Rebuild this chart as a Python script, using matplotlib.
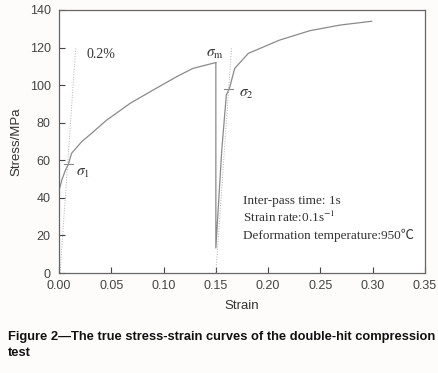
import matplotlib.pyplot as plt
import numpy as np

plt.rcParams['mathtext.fontset'] = 'stix'

# first hit (strain, stress)
strain1 = [0.0, 0.003, 0.006, 0.009, 0.012, 0.0217, 0.031, 0.0456, 0.068, 0.090, 0.1125, 0.128, 0.149, 0.150]
stress1 = [44.0, 50.0, 54.5, 58.0, 63.7, 69.9, 74.3, 81.4, 90.3, 97.4, 104.5, 108.9, 111.9, 112.0]

# unloading + second hit
strain2 = [0.150, 0.150, 0.1556, 0.160, 0.163, 0.168, 0.181, 0.211, 0.240, 0.269, 0.299]
stress2 = [112.0, 13.3, 65.0, 94.7, 98.3, 108.9, 116.9, 124.0, 129.0, 132.0, 134.0]

# 0.2% offset lines
offset1_x = [0.001, 0.016]
offset1_y = [0.0, 120.0]
offset2_x = [0.150, 0.165]
offset2_y = [0.0, 120.0]

xticks = [0.00, 0.05, 0.10, 0.15, 0.20, 0.25, 0.30, 0.35]
yticks = [0, 20, 40, 60, 80, 100, 120, 140]

notes = ['Inter-pass time: 1s', 'Strain rate:0.1s$^{-1}$', 'Deformation temperature:950\u2103']

fig = plt.figure(figsize=(4.39, 3.73), dpi=100)
fig.patch.set_facecolor('#fdfcfb')
ax = fig.add_axes([59 / 439, 100 / 373, 366 / 439, 263 / 373])
ax.set_facecolor('white')

line_col = '#8a8a8a'
ax.plot(strain1, stress1, color=line_col, lw=0.9)
ax.plot(strain2, stress2, color=line_col, lw=0.9)
ax.plot(offset1_x, offset1_y, color='#b0b0b0', lw=0.7, ls=':')
ax.plot(offset2_x, offset2_y, color='#b0b0b0', lw=0.7, ls=':')

# sigma markers
ax.plot([0.005, 0.013], [58, 58], color=line_col, lw=0.8)
ax.plot([0.158, 0.1667], [97.7, 97.7], color=line_col, lw=0.8)

serif = ['Liberation Serif', 'Noto Sans CJK SC', 'DejaVu Sans']
ax.text(0.0265, 114.5, '0.2%', fontsize=10, family=serif, color='#333333')
ax.text(0.141, 115, r'$\sigma_{\rm m}$', fontsize=11, color='#333333')
ax.text(0.016, 51.5, r'$\sigma_{1}$', fontsize=11, color='#333333')
ax.text(0.172, 94, r'$\sigma_{2}$', fontsize=11, color='#333333')
for i, t in enumerate(notes):
    ax.text(0.176, 36.5 - i * 9.3, t, fontsize=9.5, family=serif, color='#333333')

ax.set_xlim(0, 0.35)
ax.set_ylim(0, 140)
ax.set_xticks(xticks)
ax.set_yticks(yticks)
ax.set_xticklabels(['%.2f' % v for v in xticks])
ax.tick_params(direction='in', length=4, width=0.8, colors='#444444', labelsize=9,
               labelcolor='#444444')
ax.tick_params(axis='x', pad=5)
ax.tick_params(axis='y', pad=6)
for s in ax.spines.values():
    s.set_color('#666666')
    s.set_linewidth(0.9)

ax.set_xlabel('Strain', fontsize=9.5, color='#333333', family='Liberation Sans', labelpad=6)
ax.set_ylabel('Stress/MPa', fontsize=9.5, color='#333333', family='Liberation Sans', labelpad=5)
for lab in ax.get_xticklabels() + ax.get_yticklabels():
    lab.set_family('Liberation Sans')

fig.text(8 / 439, 1 - 340 / 373, 'Figure 2\u2014The true stress-strain curves of the double-hit compression',
         fontsize=9.3, fontweight='bold', family='Liberation Sans', color='#111111')
fig.text(8 / 439, 1 - 356 / 373, 'test', fontsize=9.3, fontweight='bold',
         family='Liberation Sans', color='#111111')

fig.savefig('out.png', dpi=100, facecolor=fig.get_facecolor())
